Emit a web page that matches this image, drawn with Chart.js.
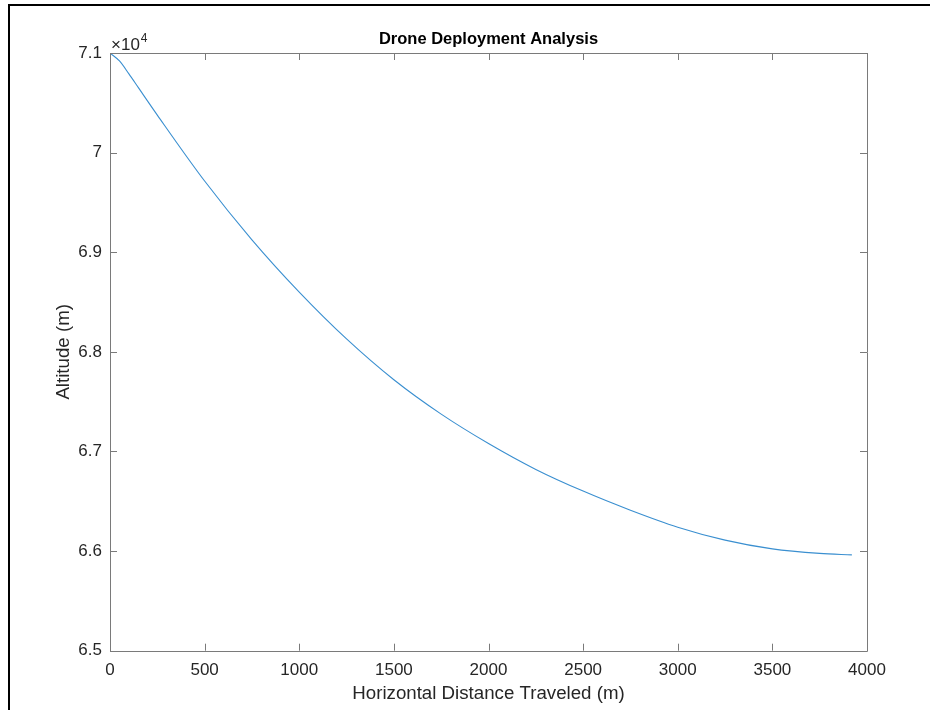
<!DOCTYPE html>
<html>
<head>
<meta charset="utf-8">
<script src="https://cdn.jsdelivr.net/npm/chart.js@4/dist/chart.umd.min.js"></script>
<style>
html, body { margin: 0; padding: 0; background: #fff; }
canvas { display: block; }
</style>
</head>
<body>
<canvas id="chart-1" width="930" height="710"></canvas>
<script>
var distance = [0, 50, 100, 150, 250, 500, 750, 1000, 1250, 1500, 1750, 2000, 2250, 2500, 2750, 3000, 3250, 3500, 3750, 3920];
var altitude = [71000, 70920, 70790, 70652, 70377, 69715, 69125, 68600, 68130, 67720, 67375, 67080, 66820, 66602, 66410, 66240, 66110, 66022, 65977, 65962];
var xTicks = [0, 500, 1000, 1500, 2000, 2500, 3000, 3500, 4000];
var yTicks = [65000, 66000, 67000, 68000, 69000, 70000, 71000];
var chartTitle = 'Drone Deployment Analysis';
var xTitle = 'Horizontal Distance Traveled (m)';
var yTitle = 'Altitude (m)';

var fontFamily = '"Liberation Sans", Helvetica, Arial, sans-serif';
var textColor = '#262626';
var boxColor = '#7a7a7a';

var points = distance.map(function(d, i){ return {x: d, y: altitude[i]}; });

var matlabFrame = {
	id: 'matlabFrame',
	afterDraw: function(chart){
		var ctx = chart.ctx, a = chart.chartArea;
		var xs = chart.scales.x, ys = chart.scales.y;
		var tl = 7;
		ctx.save();
		// outer black frame of the screenshot
		ctx.fillStyle = '#000';
		ctx.fillRect(8, 4, 2, 706);
		ctx.fillRect(8, 4, 922, 2);
		// axes box + inward ticks
		ctx.strokeStyle = boxColor;
		ctx.lineWidth = 1;
		ctx.beginPath();
		ctx.rect(Math.round(a.left) + 0.5, Math.round(a.top) + 0.5, Math.round(a.right - a.left), Math.round(a.bottom - a.top));
		xTicks.forEach(function(v){
			var px = Math.round(xs.getPixelForValue(v)) + 0.5;
			ctx.moveTo(px, a.bottom); ctx.lineTo(px, a.bottom - tl);
			ctx.moveTo(px, a.top); ctx.lineTo(px, a.top + tl);
		});
		yTicks.forEach(function(v){
			var py = Math.round(ys.getPixelForValue(v)) + 0.5;
			ctx.moveTo(a.left, py); ctx.lineTo(a.left + tl, py);
			ctx.moveTo(a.right, py); ctx.lineTo(a.right - tl, py);
		});
		ctx.stroke();
		// title
		ctx.fillStyle = '#000';
		ctx.font = 'bold 16.5px ' + fontFamily;
		ctx.textAlign = 'center';
		ctx.textBaseline = 'alphabetic';
		ctx.fillText(chartTitle, (a.left + a.right) / 2, 44);
		// exponent label
		ctx.fillStyle = textColor;
		ctx.textAlign = 'left';
		ctx.font = '17px ' + fontFamily;
		ctx.fillText('\u00d710', a.left + 1, 50);
		var w = ctx.measureText('\u00d710').width;
		ctx.font = '12px ' + fontFamily;
		ctx.fillText('4', a.left + 1 + w + 1, 42);
		ctx.restore();
	}
};

var ctx = document.getElementById('chart-1');
var chart = new Chart(ctx, {
	type: 'scatter',
	data: {
		datasets: [{
			data: points,
			showLine: true,
			borderColor: '#3a8fd0',
			borderWidth: 1.1,
			pointRadius: 0,
			cubicInterpolationMode: 'monotone',
			fill: false
		}]
	},
	options: {
		responsive: false,
		animation: false,
		layout: { padding: { left: 0, right: 63, top: 53, bottom: 0 } },
		plugins: {
			legend: { display: false },
			tooltip: { enabled: false },
			title: { display: false }
		},
		scales: {
			x: {
				type: 'linear',
				min: 0,
				max: 4000,
				afterBuildTicks: function(s){ s.ticks = xTicks.map(function(v){ return {value: v}; }); },
				afterFit: function(s){ s.height = 59.3; },
				grid: { display: false, drawTicks: false },
				border: { display: false },
				ticks: {
					color: textColor,
					padding: 9,
					maxRotation: 0,
					font: { family: fontFamily, size: 17 },
					callback: function(v){ return String(v); }
				},
				title: {
					display: true,
					text: xTitle,
					color: textColor,
					font: { family: fontFamily, size: 18.7 },
					padding: { top: 0, bottom: 5 }
				}
			},
			y: {
				type: 'linear',
				min: 65000,
				max: 71000,
				afterBuildTicks: function(s){ s.ticks = yTicks.map(function(v){ return {value: v}; }); },
				afterFit: function(s){ s.width = 110; },
				grid: { display: false, drawTicks: false },
				border: { display: false },
				ticks: {
					color: textColor,
					padding: 8,
					font: { family: fontFamily, size: 17 },
					callback: function(v){ return String(Math.round(v / 1000) / 10); }
				},
				title: {
					display: true,
					text: yTitle,
					color: textColor,
					font: { family: fontFamily, size: 18.7 },
					padding: { top: 53, bottom: 0 }
				}
			}
		}
	},
	plugins: [matlabFrame]
});
</script>
</body>
</html>
